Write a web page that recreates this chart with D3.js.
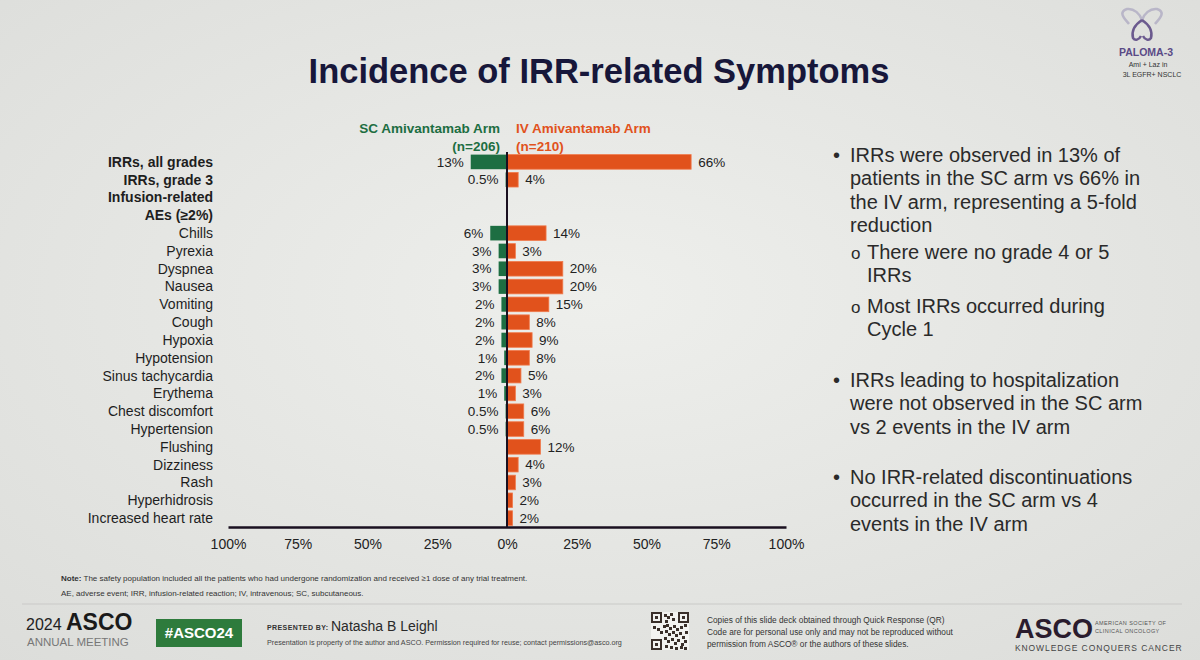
<!DOCTYPE html>
<html>
<head>
<meta charset="utf-8">
<script src="https://cdn.jsdelivr.net/npm/d3@7"></script>
<style>
  html, body { margin: 0; padding: 0; background: #e6e7e4; }
  svg { display: block; font-family: "Liberation Sans", Arial, sans-serif; }
</style>
</head>
<body>
<script>
const width = 1200;
const height = 660;

// rows of the chart (header rows have no values)
const categories = [
  "IRRs, all grades", "IRRs, grade 3", "Infusion-related", "AEs (\u22652%)",
  "Chills", "Pyrexia", "Dyspnea", "Nausea", "Vomiting", "Cough", "Hypoxia",
  "Hypotension", "Sinus tachycardia", "Erythema", "Chest discomfort",
  "Hypertension", "Flushing", "Dizziness", "Rash", "Hyperhidrosis",
  "Increased heart rate"
];
const boldRows = ["IRRs, all grades", "IRRs, grade 3", "Infusion-related", "AEs (\u22652%)"];
const scValues = [13, 0.5, null, null, 6, 3, 3, 3, 2, 2, 2, 1, 2, 1, 0.5, 0.5, null, null, null, null, null];
const ivValues = [66, 4, null, null, 14, 3, 20, 20, 15, 8, 9, 8, 5, 3, 6, 6, 12, 4, 3, 2, 2];
const tickValues = [-100, -75, -50, -25, 0, 25, 50, 75, 100];

const bullets = [
  {lines: ["IRRs were observed in 13% of", "patients in the SC arm vs 66% in", "the IV arm, representing a 5-fold", "reduction"], y: 162, sub: false},
  {lines: ["There were no grade 4 or 5", "IRRs"], y: 259, sub: true},
  {lines: ["Most IRRs occurred during", "Cycle 1"], y: 313, sub: true},
  {lines: ["IRRs leading to hospitalization", "were not observed in the SC arm", "vs 2 events in the IV arm"], y: 387, sub: false},
  {lines: ["No IRR-related discontinuations", "occurred in the SC arm vs 4", "events in the IV arm"], y: 484, sub: false}
];

const green = "#1d6e42";
const orange = "#e1521c";

const svg = d3.select("body").append("svg")
    .attr("width", width)
    .attr("height", height)
    .attr("viewBox", `0 0 ${width} ${height}`);

const defs = svg.append("defs");
const bg = defs.append("radialGradient").attr("id", "bg")
    .attr("cx", "50%").attr("cy", "45%").attr("r", "75%");
bg.append("stop").attr("offset", "0%").attr("stop-color", "#eeefec");
bg.append("stop").attr("offset", "100%").attr("stop-color", "#dcddda");

svg.append("rect").attr("width", width).attr("height", height).attr("fill", "url(#bg)");

// title
svg.append("text")
    .attr("x", 599).attr("y", 83)
    .attr("text-anchor", "middle")
    .attr("font-size", 34.5).attr("font-weight", "bold")
    .attr("fill", "#17173a")
    .text("Incidence of IRR-related Symptoms");

// scales
const x = d3.scaleLinear().domain([-100, 100]).range([228, 786]);
const y = d3.scaleBand().domain(categories).range([153, 527]).paddingInner(0.18).paddingOuter(0.09);

const chart = svg.append("g");

// legend headers
const leg = chart.append("g").attr("font-size", 13.5).attr("font-weight", "bold");
leg.append("text").attr("x", x(0) - 7).attr("y", 133).attr("text-anchor", "end").attr("fill", green).text("SC Amivantamab Arm");
leg.append("text").attr("x", x(0) - 7).attr("y", 151).attr("text-anchor", "end").attr("fill", green).text("(n=206)");
leg.append("text").attr("x", x(0) + 9).attr("y", 133).attr("fill", orange).text("IV Amivantamab Arm");
leg.append("text").attr("x", x(0) + 9).attr("y", 151).attr("fill", orange).text("(n=210)");

// category labels
chart.append("g")
    .selectAll("text")
    .data(categories)
    .join("text")
    .attr("x", 213)
    .attr("y", d => y(d) + y.bandwidth() / 2)
    .attr("dy", "0.35em")
    .attr("text-anchor", "end")
    .attr("font-size", 14)
    .attr("font-weight", d => boldRows.includes(d) ? "bold" : "normal")
    .attr("fill", "#1e1e1e")
    .text(d => d);

const rows = categories.map((c, i) => ({cat: c, sc: scValues[i], iv: ivValues[i]}));

// SC bars (to the left)
chart.append("g")
    .selectAll("rect")
    .data(rows.filter(d => d.sc != null))
    .join("rect")
    .attr("x", d => x(-d.sc))
    .attr("y", d => y(d.cat))
    .attr("width", d => x(0) - x(-d.sc))
    .attr("height", y.bandwidth())
    .attr("fill", green);

// IV bars (to the right)
chart.append("g")
    .selectAll("rect")
    .data(rows.filter(d => d.iv != null))
    .join("rect")
    .attr("x", x(0))
    .attr("y", d => y(d.cat))
    .attr("width", d => x(d.iv) - x(0))
    .attr("height", y.bandwidth())
    .attr("fill", orange)
    .attr("stroke", "#f07a4c")
    .attr("stroke-width", 0.8);

// value labels
chart.append("g")
    .selectAll("text")
    .data(rows.filter(d => d.sc != null))
    .join("text")
    .attr("x", d => x(-d.sc) - 7)
    .attr("y", d => y(d.cat) + y.bandwidth() / 2)
    .attr("dy", "0.35em")
    .attr("text-anchor", "end")
    .attr("font-size", 13.5)
    .attr("fill", "#222")
    .text(d => d.sc + "%");

chart.append("g")
    .selectAll("text")
    .data(rows.filter(d => d.iv != null))
    .join("text")
    .attr("x", d => x(d.iv) + 7)
    .attr("y", d => y(d.cat) + y.bandwidth() / 2)
    .attr("dy", "0.35em")
    .attr("font-size", 13.5)
    .attr("fill", "#222")
    .text(d => d.iv + "%");

// axes
chart.append("line")
    .attr("x1", x(0)).attr("x2", x(0))
    .attr("y1", 152).attr("y2", 528)
    .attr("stroke", "#1a1020").attr("stroke-width", 2);

const xAxis = chart.append("g")
    .attr("transform", "translate(0,527)")
    .call(d3.axisBottom(x).tickValues(tickValues).tickSize(0).tickPadding(12)
        .tickFormat(d => Math.abs(d) + "%"));
xAxis.select(".domain").attr("stroke", "#1a1020").attr("stroke-width", 2.5);
xAxis.selectAll("text").attr("font-size", 14).attr("fill", "#222")
    .attr("font-family", "Liberation Sans, Arial, sans-serif");

// right-hand bullets
const bl = svg.append("g").attr("font-size", 20).attr("fill", "#2a2a2a");
bullets.forEach(b => {
  const tx = b.sub ? 867 : 850;
  bl.append("text")
      .attr("x", b.sub ? 851 : 833).attr("y", b.y)
      .attr("font-size", b.sub ? 17 : 20)
      .text(b.sub ? "o" : "\u2022");
  b.lines.forEach((l, i) => {
    bl.append("text").attr("x", tx).attr("y", b.y + i * 23.3).text(l);
  });
});

// note
const note = svg.append("g").attr("font-size", 8).attr("fill", "#333");
const n1 = note.append("text").attr("x", 61).attr("y", 581);
n1.append("tspan").attr("font-weight", "bold").text("Note:");
n1.append("tspan").text(" The safety population included all the patients who had undergone randomization and received \u22651 dose of any trial treatment.");
note.append("text").attr("x", 61).attr("y", 596)
    .text("AE, adverse event; IRR, infusion-related reaction; IV, intravenous; SC, subcutaneous.");

svg.append("line")
    .attr("x1", 22).attr("x2", 1182).attr("y1", 604).attr("y2", 604)
    .attr("stroke", "#c9cac7").attr("stroke-width", 1.2);

// footer
const ft = svg.append("g");
ft.append("text").attr("x", 26).attr("y", 630).attr("font-size", 16).attr("fill", "#222").text("2024");
ft.append("text").attr("x", 66).attr("y", 630).attr("font-size", 23).attr("font-weight", "bold").attr("fill", "#1a1a1a").text("ASCO");
ft.append("text").attr("x", 27).attr("y", 646).attr("font-size", 11.5).attr("fill", "#777").text("ANNUAL MEETING");

ft.append("rect").attr("x", 156).attr("y", 619).attr("width", 86).attr("height", 28).attr("fill", "#2e7b3c");
ft.append("text").attr("x", 199).attr("y", 638).attr("text-anchor", "middle")
    .attr("font-size", 15).attr("font-weight", "bold").attr("fill", "#fff").text("#ASCO24");

ft.append("text").attr("x", 267).attr("y", 630).attr("font-size", 7).attr("font-weight", "bold").attr("fill", "#333")
    .attr("letter-spacing", 0.4).text("PRESENTED BY:");
ft.append("text").attr("x", 331).attr("y", 631).attr("font-size", 14).attr("fill", "#2a2a2a").text("Natasha B Leighl");
ft.append("text").attr("x", 267).attr("y", 645).attr("font-size", 7.2).attr("fill", "#444")
    .text("Presentation is property of the author and ASCO. Permission required for reuse; contact permissions@asco.org");

// QR code block
const qr = ft.append("g").attr("transform", "translate(651,612)");
qr.append("rect").attr("width", 38).attr("height", 38).attr("fill", "#f2f2f0");
[[0, 0], [27, 0], [0, 27]].forEach(([a, b]) => {
  qr.append("rect").attr("x", a + 1).attr("y", b + 1).attr("width", 9).attr("height", 9)
      .attr("fill", "none").attr("stroke", "#3a2f2a").attr("stroke-width", 2);
  qr.append("rect").attr("x", a + 4).attr("y", b + 4).attr("width", 3).attr("height", 3).attr("fill", "#3a2f2a");
});
const qrCells = [[13,2],[16,4],[19,1],[14,8],[21,6],[12,13],[15,12],[18,15],[22,13],[25,16],[29,14],[33,12],[2,14],[6,16],[9,19],
  [14,18],[17,21],[21,19],[24,22],[28,20],[31,24],[34,19],[13,25],[16,28],[20,26],[23,30],[26,27],[30,31],[33,28],[14,33],[19,34],[24,35],[29,34],[33,35]];
qrCells.forEach(([a, b]) => {
  qr.append("rect").attr("x", a).attr("y", b).attr("width", 3).attr("height", 3).attr("fill", "#3a2f2a");
});

const cp = ft.append("g").attr("font-size", 8.3).attr("fill", "#333");
["Copies of this slide deck obtained through Quick Response (QR)",
 "Code are for personal use only and may not be reproduced without",
 "permission from ASCO\u00ae or the authors of these slides."].forEach((t, i) => {
  cp.append("text").attr("x", 707).attr("y", 623 + i * 12).text(t);
});

ft.append("text").attr("x", 1015).attr("y", 638).attr("font-size", 27).attr("font-weight", "bold").attr("fill", "#2a1c2e").text("ASCO");
ft.append("text").attr("x", 1095).attr("y", 625).attr("font-size", 5.5).attr("fill", "#555").attr("letter-spacing", 0.4).text("AMERICAN SOCIETY OF");
ft.append("text").attr("x", 1095).attr("y", 633).attr("font-size", 5.5).attr("fill", "#555").attr("letter-spacing", 0.4).text("CLINICAL ONCOLOGY");
ft.append("text").attr("x", 1015).attr("y", 651).attr("font-size", 8.5).attr("fill", "#444").attr("letter-spacing", 0.9).text("KNOWLEDGE CONQUERS CANCER");

// PALOMA-3 badge
const pl = svg.append("g");
pl.append("path")
    .attr("d", "M1129,24 C1124,18 1118,12 1127,9 C1134,8 1140,14 1142,20 C1144,14 1150,8 1157,9 C1166,12 1160,18 1155,24")
    .attr("fill", "none").attr("stroke", "#b9b6c8").attr("stroke-width", 2.5);
pl.append("path")
    .attr("d", "M1142,20 C1136,24 1131,30 1133,38 C1135,41 1139,40 1141,36 M1142,20 C1148,24 1153,30 1151,38 C1149,41 1145,40 1143,36")
    .attr("fill", "none").attr("stroke", "#6b5a8e").attr("stroke-width", 2.5);
pl.append("text").attr("x", 1146).attr("y", 56).attr("text-anchor", "middle").attr("font-size", 10.5)
    .attr("font-weight", "bold").attr("fill", "#5a4a86").text("PALOMA-3");
pl.append("text").attr("x", 1148).attr("y", 67).attr("text-anchor", "middle").attr("font-size", 7).attr("fill", "#333").text("Ami + Laz in");
pl.append("text").attr("x", 1152).attr("y", 77).attr("text-anchor", "middle").attr("font-size", 7).attr("fill", "#333").text("3L EGFR+ NSCLC");
</script>
</body>
</html>
